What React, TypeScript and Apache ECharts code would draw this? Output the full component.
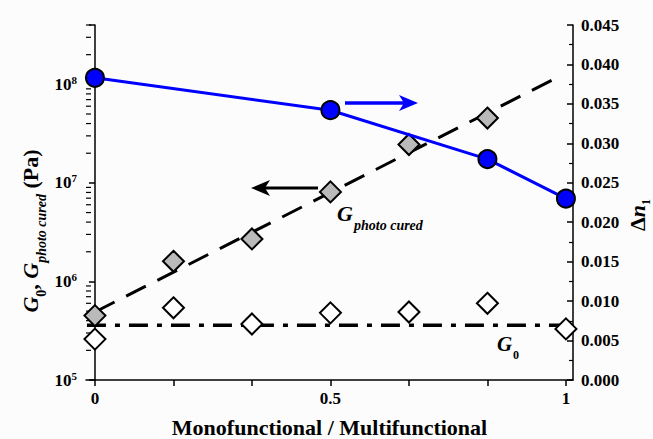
import React, { useEffect, useRef } from 'react';
import * as echarts from 'echarts';

// ---- data ----
const xTickValues = [0, 0.1667, 0.3333, 0.5, 0.6667, 0.8333, 1];
const xLabelValues = [0, 0.5, 1];
const dnX = [0, 0.5, 0.8333, 1];
const dnValues = [0.0383, 0.0342, 0.028, 0.023];
const gPhotoX = [0, 0.1667, 0.3333, 0.5, 0.6667, 0.8333];
const gPhotoValues = [4.5e5, 1.6e6, 2.7e6, 8.1e6, 2.45e7, 4.55e7];
const g0X = [0, 0.1667, 0.3333, 0.5, 0.6667, 0.8333, 1];
const g0Values = [2.6e5, 5.4e5, 3.7e5, 4.8e5, 4.9e5, 6.0e5, 3.3e5];
const g0FitX = [-0.017, 0.995];
const g0FitValues = [3.6e5, 3.6e5];
const gPhotoFitX = [0, 0.97];
const gPhotoFitValues = [4.9e5, 1.1e8];
const leftDecades = [5, 6, 7, 8];
const minorMultipliers = [2, 3, 4, 5, 6, 7, 8, 9];

const X_MIN = -0.019;
const X_MAX = 1.015;
const G_MIN = 1e5;
const G_MAX = 4e8;
const DN_MIN = 0;
const DN_MAX = 0.045;
const DN_STEP = 0.005;

const FONT = "'Liberation Serif', 'Times New Roman', serif";
const BLUE = '#0000ff';

const pairs = (xs: number[], ys: number[]) => xs.map((x, i) => [x, ys[i]]);

const minorTicks: number[] = [];
leftDecades.forEach((d) => {
  minorMultipliers.forEach((m) => {
    const v = m * Math.pow(10, d);
    if (v <= G_MAX) minorTicks.push(v);
  });
});

function buildOption(): any {
  return {
    animation: false,
    backgroundColor: '#fcfcfc',
    grid: { left: 86, right: 80, top: 25, bottom: 59, containLabel: false, outerBoundsMode: 'none' },
    xAxis: {
      type: 'value',
      min: X_MIN,
      max: X_MAX,
      name: 'Monofunctional / Multifunctional',
      nameLocation: 'middle',
      nameGap: 36,
      nameTextStyle: { fontFamily: FONT, fontSize: 22, fontWeight: 'bold', color: '#000' },
      axisLine: { show: true, lineStyle: { color: '#000', width: 1.5 } },
      axisTick: { show: true, inside: false, length: 6, customValues: xTickValues, lineStyle: { color: '#000', width: 1.5 } },
      axisLabel: {
        show: true,
        customValues: xLabelValues,
        margin: 10,
        fontFamily: FONT,
        fontSize: 17,
        fontWeight: 'bold',
        color: '#000',
        formatter: (v: number) => String(v),
      },
      splitLine: { show: false },
    },
    yAxis: [
      {
        type: 'log',
        logBase: 10,
        min: G_MIN,
        max: G_MAX,
        position: 'left',
        axisLine: { show: true, lineStyle: { color: '#000', width: 1.5 } },
        axisTick: { show: true, inside: false, length: 6, lineStyle: { color: '#000', width: 1.5 } },
        axisLabel: {
          margin: 9,
          color: '#000',
          formatter: (v: number) => {
            const e = Math.round(Math.log10(v));
            if (Math.abs(v - Math.pow(10, e)) / Math.pow(10, e) > 1e-6) return '';
            return '{b|10}{s|' + e + '}';
          },
          rich: {
            b: { fontFamily: FONT, fontSize: 17, fontWeight: 'bold', lineHeight: 20, verticalAlign: 'middle', color: '#000' },
            s: { fontFamily: FONT, fontSize: 11, fontWeight: 'bold', lineHeight: 11, verticalAlign: 'top', color: '#000' },
          },
        },
        splitLine: { show: false },
      },
      {
        type: 'value',
        min: DN_MIN,
        max: DN_MAX,
        interval: DN_STEP,
        position: 'right',
        axisLine: { show: true, lineStyle: { color: '#000', width: 1.5 } },
        axisTick: { show: true, inside: true, length: 6, lineStyle: { color: '#000', width: 1.5 } },
        minorTick: { show: true, splitNumber: 2, length: 4, lineStyle: { color: '#000', width: 1.2 } },
        axisLabel: {
          margin: 8,
          fontFamily: FONT,
          fontSize: 17,
          fontWeight: 'bold',
          color: '#000',
          formatter: (v: number) => v.toFixed(3),
        },
        splitLine: { show: false },
      },
    ],
    series: [
      {
        type: 'custom',
        xAxisIndex: 0,
        yAxisIndex: 0,
        silent: true,
        clip: false,
        data: minorTicks.map((v) => [X_MIN, v]),
        renderItem: (params: any, api: any) => {
          const p = api.coord([api.value(0), api.value(1)]);
          return {
            type: 'line',
            shape: { x1: p[0], y1: p[1], x2: p[0] + 5, y2: p[1] },
            style: { stroke: '#000', lineWidth: 1.2 },
          };
        },
      },
      {
        type: 'line',
        yAxisIndex: 0,
        data: pairs(g0FitX, g0FitValues),
        symbol: 'none',
        lineStyle: { color: '#000', width: 3.5, type: [19, 9, 5, 9] },
        z: 2,
      },
      {
        type: 'line',
        yAxisIndex: 0,
        data: pairs(gPhotoFitX, gPhotoFitValues),
        symbol: 'none',
        lineStyle: { color: '#000', width: 3, type: [22, 13] },
        z: 2,
      },
      {
        type: 'scatter',
        yAxisIndex: 0,
        data: pairs(g0X, g0Values),
        symbol: 'diamond',
        symbolSize: 21,
        itemStyle: { color: '#ffffff', borderColor: '#000', borderWidth: 2, opacity: 1 },
        z: 3,
      },
      {
        type: 'scatter',
        yAxisIndex: 0,
        data: pairs(gPhotoX, gPhotoValues),
        symbol: 'diamond',
        symbolSize: 21,
        itemStyle: { color: '#bababa', borderColor: '#000', borderWidth: 2, opacity: 1 },
        z: 3,
      },
      {
        type: 'line',
        yAxisIndex: 1,
        data: pairs(dnX, dnValues),
        symbol: 'circle',
        symbolSize: 18,
        showAllSymbol: true,
        lineStyle: { color: BLUE, width: 3 },
        itemStyle: { color: BLUE, borderColor: '#000', borderWidth: 2 },
        z: 4,
      },
    ],
    graphic: [
      // black arrow pointing left (to the left axis)
      { type: 'line', shape: { x1: 318, y1: 188, x2: 262, y2: 188 }, style: { stroke: '#000', lineWidth: 3 }, z: 10 },
      { type: 'polygon', shape: { points: [[251, 188], [270, 180], [265, 188], [270, 196]] }, style: { fill: '#000' }, z: 10 },
      // blue arrow pointing right (to the right axis)
      { type: 'line', shape: { x1: 345, y1: 103, x2: 406, y2: 103 }, style: { stroke: BLUE, lineWidth: 3.5 }, z: 10 },
      { type: 'polygon', shape: { points: [[418, 103], [399, 95], [404, 103], [399, 111]] }, style: { fill: BLUE }, z: 10 },
      // G photo cured label
      {
        type: 'text', x: 337, y: 213, z: 10,
        style: { text: 'G', fontFamily: FONT, fontSize: 22, fontWeight: 'bold', fontStyle: 'italic', fill: '#000', align: 'left', verticalAlign: 'middle' },
      },
      {
        type: 'text', x: 354, y: 225, z: 10,
        style: { text: 'photo cured', fontFamily: FONT, fontSize: 14, fontWeight: 'bold', fontStyle: 'italic', fill: '#000', align: 'left', verticalAlign: 'middle' },
      },
      // G0 label
      {
        type: 'text', x: 497, y: 344, z: 10,
        style: { text: 'G', fontFamily: FONT, fontSize: 21, fontWeight: 'bold', fontStyle: 'italic', fill: '#000', align: 'left', verticalAlign: 'middle' },
      },
      {
        type: 'text', x: 513, y: 355, z: 10,
        style: { text: '0', fontFamily: FONT, fontSize: 12, fontWeight: 'bold', fill: '#000', align: 'left', verticalAlign: 'middle' },
      },
      // left axis title
      {
        type: 'text', x: 30, y: 231, rotation: Math.PI / 2, z: 10,
        style: {
          text: '{g|G}{z|0}{n|, }{g|G}{s|photo cured}{n| (Pa)}',
          align: 'center',
          verticalAlign: 'middle',
          rich: {
            g: { fontFamily: FONT, fontSize: 22, fontWeight: 'bold', fontStyle: 'italic', lineHeight: 36, verticalAlign: 'middle', fill: '#000' },
            n: { fontFamily: FONT, fontSize: 22, fontWeight: 'bold', lineHeight: 36, verticalAlign: 'middle', fill: '#000' },
            s: { fontFamily: FONT, fontSize: 14, fontWeight: 'bold', fontStyle: 'italic', lineHeight: 14, verticalAlign: 'bottom', fill: '#000' },
            z: { fontFamily: FONT, fontSize: 14, fontWeight: 'bold', lineHeight: 14, verticalAlign: 'bottom', fill: '#000' },
          },
        },
      },
      // right axis title
      {
        type: 'text', x: 637, y: 215, rotation: Math.PI / 2, z: 10,
        style: {
          text: '{n|Δ}{g|n}{z|1}',
          align: 'center',
          verticalAlign: 'middle',
          rich: {
            g: { fontFamily: FONT, fontSize: 22, fontWeight: 'bold', fontStyle: 'italic', lineHeight: 30, verticalAlign: 'middle', fill: '#000' },
            n: { fontFamily: FONT, fontSize: 22, fontWeight: 'bold', lineHeight: 30, verticalAlign: 'middle', fill: '#000' },
            z: { fontFamily: FONT, fontSize: 12, fontWeight: 'bold', lineHeight: 12, verticalAlign: 'bottom', fill: '#000' },
          },
        },
      },
    ],
  };
}

export default function App() {
  const ref = useRef<HTMLDivElement>(null);
  useEffect(() => {
    if (!ref.current) return;
    const chart = echarts.init(ref.current, null, { renderer: 'svg' });
    chart.setOption(buildOption());
    return () => {
      chart.dispose();
    };
  }, []);
  return <div ref={ref} style={{ position: 'fixed', left: 0, top: 0, width: 653, height: 439 }} />;
}
